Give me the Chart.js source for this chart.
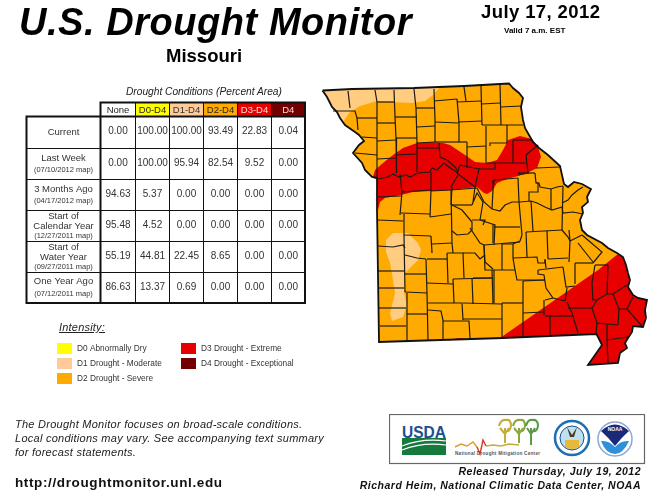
<!DOCTYPE html>
<html>
<head>
<meta charset="utf-8">
<title>U.S. Drought Monitor - Missouri</title>
<script src="https://cdn.jsdelivr.net/npm/chart.js@4"></script>
<style>
  html, body { margin: 0; padding: 0; background: #fff; }
  #page { position: relative; width: 670px; height: 498px; overflow: hidden; font-family: "Liberation Sans", Arial, sans-serif; color: #111; }
  #page canvas { position: absolute; left: 0; top: 0; }
  .t { position: absolute; white-space: nowrap; line-height: 1; }
  #logos { position: absolute; left: 389px; top: 414px; }
</style>
</head>
<body>
<div id="page">
  <canvas id="map" width="670" height="498"></canvas>

  <div class="t" style="left:19px;top:3px;font-size:38px;font-weight:bold;font-style:italic;letter-spacing:.55px;color:#000">U.S. Drought Monitor</div>
  <div class="t" style="left:166px;top:47px;font-size:18.5px;font-weight:bold;color:#000">Missouri</div>
  <div class="t" style="left:481px;top:3px;font-size:18.5px;font-weight:bold;letter-spacing:.4px;color:#000">July 17, 2012</div>
  <div class="t" style="left:504px;top:27px;font-size:8px;font-weight:bold;color:#000">Valid 7 a.m. EST</div>
  <div class="t" style="left:126px;top:87px;font-size:10.2px;font-style:italic;color:#222">Drought Conditions (Percent Area)</div>

  <div class="t" style="left:59px;top:322px;font-size:11px;font-style:italic;text-decoration:underline;letter-spacing:.2px;color:#222">Intensity:</div>
  <div class="t" style="left:15px;top:419px;font-size:11px;font-style:italic;letter-spacing:.26px;color:#222">The Drought Monitor focuses on broad-scale conditions.</div>
  <div class="t" style="left:15px;top:433px;font-size:11px;font-style:italic;letter-spacing:.26px;color:#222">Local conditions may vary. See accompanying text summary</div>
  <div class="t" style="left:15px;top:447px;font-size:11px;font-style:italic;letter-spacing:.26px;color:#222">for forecast statements.</div>
  <div class="t" style="left:15px;top:476px;font-size:13.5px;font-weight:bold;letter-spacing:.62px">http://droughtmonitor.unl.edu</div>
  <div class="t" style="right:29px;top:466px;font-size:10.5px;font-weight:bold;font-style:italic;letter-spacing:.5px">Released Thursday, July 19, 2012</div>
  <div class="t" style="right:29px;top:480px;font-size:10.5px;font-weight:bold;font-style:italic;letter-spacing:.5px">Richard Heim, National Climatic Data Center, NOAA</div>

  <svg id="logos" width="257" height="51" viewBox="0 0 257 51">
    <rect x="0.5" y="0.5" width="255" height="49" fill="#fff" stroke="#666" stroke-width="1.2"/>
    <text x="13" y="24" font-family="Liberation Sans" font-size="17" font-weight="bold" fill="#1b4f91" textLength="44" lengthAdjust="spacingAndGlyphs">USDA</text>
    <rect x="13" y="24" width="44" height="17" fill="#157a3c"/>
    <path d="M13 32Q33 24 57 27M13 36Q33 28 57 31" stroke="#fff" stroke-width="1.2" fill="none"/>
    <polyline points="66,33 72,30 78,32 84,28 88,33" fill="none" stroke="#e8962d" stroke-width="1.4"/>
    <polyline points="88,33 91,40 94,26 97,32" fill="none" stroke="#d8322a" stroke-width="1.4"/>
    <polyline points="97,32 104,31 112,32 120,30 130,31" fill="none" stroke="#c5ad3a" stroke-width="1.4"/>
    <g fill="none" stroke-width="2">
      <path d="M116 29V14M116 20L111 14M116 20L120 14M110 12Q112 5 117 6Q122 5 122 12Q121 18 117 17" stroke="#c5ad3a"/>
      <path d="M130 29V14M130 20L125 14M130 20L134 14M124 12Q126 5 131 6Q136 5 136 12Q135 18 131 17" stroke="#8aa83d"/>
      <path d="M142 31V14M142 20L138 14M142 20L146 14M137 12Q139 5 143 6Q149 5 149 12Q148 18 144 17" stroke="#5c9a4a"/>
    </g>
    <text x="66" y="41" font-family="Liberation Sans" font-size="4.6" font-weight="bold" fill="#555" textLength="85">National Drought Mitigation Center</text>
    <circle cx="183" cy="24" r="17" fill="#fff" stroke="#1d6fb3" stroke-width="2.5"/>
    <circle cx="183" cy="24" r="12" fill="#bfe0ef" stroke="#1b4f91"/>
    <path d="M176 26H190V33Q183 37 176 33Z" fill="#e5b93a"/>
    <path d="M178 13L183 21L188 13L185 23H181Z" fill="#4a3a1e"/>
    <circle cx="226" cy="25" r="17" fill="#fff" stroke="#8fa8d0" stroke-width="1.5"/>
    <path d="M212 17Q226 4 240 17Q232 24 226 32Q220 24 212 17Z" fill="#1a2a78"/>
    <path d="M212 27Q220 26 226 33Q232 26 240 27Q234 40 226 40Q217 40 212 27Z" fill="#2f8fd8"/>
    <text x="226" y="17" text-anchor="middle" font-family="Liberation Sans" font-size="5" font-weight="bold" fill="#fff">NOAA</text>
  </svg>
</div>

<script>
// Table values (percent area)
const rowNames = [['Current'], ['Last Week', '(07/10/2012 map)'], ['3 Months Ago', '(04/17/2012 map)'],
  ['Start of', 'Calendar Year', '(12/27/2011 map)'], ['Start of', 'Water Year', '(09/27/2011 map)'], ['One Year Ago', '(07/12/2011 map)']];
const columnNames = ['None', 'D0-D4', 'D1-D4', 'D2-D4', 'D3-D4', 'D4'];
const noneValues = ['0.00', '0.00', '94.63', '95.48', '55.19', '86.63'];
const d0d4Values = ['100.00', '100.00', '5.37', '4.52', '44.81', '13.37'];
const d1d4Values = ['100.00', '95.94', '0.00', '0.00', '22.45', '0.69'];
const d2d4Values = ['93.49', '82.54', '0.00', '0.00', '8.65', '0.00'];
const d3d4Values = ['22.83', '9.52', '0.00', '0.00', '0.00', '0.00'];
const d4Values = ['0.04', '0.00', '0.00', '0.00', '0.00', '0.00'];
const columnValues = [noneValues, d0d4Values, d1d4Values, d2d4Values, d3d4Values, d4Values];

// Legend
const legendNames = ['D0 Abnormally Dry', 'D1 Drought - Moderate', 'D2 Drought - Severe', 'D3 Drought - Extreme', 'D4 Drought - Exceptional'];

// Map shapes, traced in picture units as x,y,x,y...
const stateOutline = [322.5,90.5, 352,89, 414,88, 464,86, 509,83.5, 513,88, 519,93, 523,98, 521,107, 523,120, 525,128, 529,135, 533,142,
  539,148, 548,155, 560,166, 562,175, 564,184, 568,187, 574,182, 582,184, 591,189, 587,197, 588,202, 582,207, 583,213, 580,220, 582,230,
  587,235, 602,243, 608,248, 617,253, 623,257, 626,265, 628,273, 630,280, 628,287, 633,295, 638,298, 647,300, 645,310, 646,318, 643,327,
  633,326, 632,332, 628,338, 625,343, 627,348, 620,353, 618,363, 588,365, 595,355, 602,345, 597,335, 596,334, 503,338, 379,342, 377,210,
  377,178, 372,177, 365,170, 362,163, 353,153, 359,145, 364,141, 359,135, 355,132, 345,125, 340,118, 337,112, 332,107, 327,97];
const d1North = [322.5,90.5, 352,89, 414,88, 440,87, 433,95, 425,101, 412,103, 393,102, 377,101, 360,106, 350,112, 343,122, 345,125,
  340,118, 337,112, 332,107, 327,97];
const d1South = [386,240, 393,233, 408,233, 418,243, 421,250, 418,260, 405,273, 404,293, 407,305, 403,317, 392,321, 390,313, 395,293,
  393,280, 390,263, 386,252];
const d3North = [373,177, 375,170, 383,163, 393,155, 403,148, 417,143, 430,142, 443,143, 450,145, 465,155, 475,162, 487,163, 497,160,
  503,150, 508,140, 520,136, 532,139, 538,147, 541,157, 537,168, 527,173, 518,176, 507,179, 497,183, 492,191, 487,194, 484,193, 477,187,
  451,190, 413,192, 401,195, 385,198, 380,202, 378,210, 377,178];
const d3South = [500,338, 598,270, 618,254, 623,257, 626,265, 628,273, 630,280, 628,287, 633,295, 638,298, 647,300, 645,310, 646,318, 643,327,
  633,326, 632,332, 628,338, 625,343, 627,348, 620,353, 618,363, 588,365, 595,355, 602,345, 597,335, 596,334];
const d3Sliver = [447,340.5, 458,338, 467,338.5];
const countyLines = [
  [348,91,350,108], [333,111,355,111,357,118,358,130], [357,118,377,118], [375,90,377,102,377,178],
  [394,90,395,117,396,138,396,155,397,173], [414,89,416,108,417,142,417,172], [434,89,435,120,435,142], [464,87,466,101],
  [481,86,482,125], [500,84,501,125], [377,102,394,102], [395,117,417,117], [416,108,435,108], [434,101,457,99], [457,102,481,101],
  [481,104,500,103], [500,107,521,106], [457,99,459,122,459,142], [377,123,395,123], [396,138,417,138], [377,141,396,140],
  [362,137,377,138], [417,127,435,126], [435,122,458,123], [458,122,482,121], [482,125,523,125], [435,142,467,142], [486,126,486,163],
  [507,125,507,143], [417,143,435,142], [355,153,377,155], [377,159,396,158], [396,155,417,154], [417,148,439,148],
  [439,143,440,157,447,160,455,167,458,172], [467,142,467,168], [467,147,486,146], [490,146,490,143,507,143], [513,140,532,140],
  [513,140,513,163], [486,163,526,163], [526,155,538,145], [526,155,528,173], [479,169,495,169,495,163], [494,180,518,178],
  [518,175,529,173], [460,165,479,169,475,187], [460,165,457,173,475,187],
  [373,177,378,179,388,177,393,174,399,177,406,175,410,177,418,173,430,172,432,168,437,170,444,163,449,167,455,171,458,173],
  [400,174,402,192,400,215], [431,172,431,190,430,217], [402,192,431,190], [378,197,401,196], [431,191,451,190,477,188], [452,187,451,205],
  [451,187,458,175], [475,187,473,202], [452,205,472,205], [401,213,430,214], [378,220,403,221], [404,214,404,235,405,292],
  [404,235,431,236], [430,217,451,214], [451,190,452,243], [431,236,432,253], [432,244,452,243], [405,255,417,258,426,259],
  [426,259,427,293,428,340], [427,259,447,259], [447,253,448,283], [447,253,463,253,464,278], [463,253,475,253,480,259,485,255],
  [452,243,453,253], [378,246,393,247,403,245,405,248], [378,271,404,271], [378,288,404,288], [404,274,427,274], [405,292,427,293],
  [407,293,407,341], [379,308,406,308], [380,326,406,326], [407,314,428,314], [427,283,453,284], [453,279,454,303],
  [428,303,462,303,463,320], [428,310,441,311,443,320,443,340], [443,321,469,321,470,338], [463,303,502,304], [463,319,502,319],
  [472,278,473,304], [453,279,492,278], [492,270,493,304], [484,245,485,262,493,269], [452,205,462,210,472,222,472,230,468,234,457,235,452,231],
  [472,205,477,193,483,202], [472,220,485,220,483,225], [470,228,480,243,484,245], [484,245,520,242], [493,225,493,243],
  [480,220,495,225,494,245], [483,202,480,220],
  [477,188,484,202,492,209,500,211,505,205,512,202,520,202,531,201,537,203,545,207,552,210,562,207,563,213,573,212,583,214],
  [493,190,492,209], [494,180,493,190], [518,178,519,202], [535,173,536,183,538,183,538,192,529,192,529,201], [536,168,560,167],
  [518,173,535,173], [536,183,539,183,540,187,551,189,557,187,563,186], [551,189,551,209], [563,186,562,230],
  [562,203,568,200,572,195,578,190,583,187], [531,201,533,231], [519,202,522,235], [494,227,520,227], [484,245,485,270,515,270],
  [502,244,502,270], [502,244,513,244,520,241,522,235], [513,244,513,258,515,270], [513,258,537,257,538,263,545,263,545,259],
  [526,232,562,230], [526,232,527,257], [547,231,548,259], [548,259,568,258], [569,230,570,241,569,262], [562,230,568,237,570,241,582,235],
  [582,235,602,252,593,263], [578,243,593,262], [575,263,593,263], [575,263,575,284], [545,260,546,268], [538,270,563,267],
  [563,267,566,287,575,286], [538,270,538,274,544,275,546,288,553,298,565,301], [567,288,565,301], [545,300,553,298], [544,300,544,315],
  [545,316,572,316], [567,302,572,313,578,333], [568,308,592,308], [523,281,545,280], [515,270,517,280,545,280], [523,281,523,337],
  [473,278,493,278], [502,303,523,303], [494,270,494,303], [523,313,544,312], [502,303,502,337], [550,316,550,335], [595,265,608,265],
  [608,265,607,294], [595,265,592,283,593,300], [592,300,597,300,607,294,613,294,627,285], [613,294,619,309,618,325],
  [619,309,627,309,642,326], [627,309,633,297], [597,300,592,308,597,323,596,334], [596,323,618,325], [607,324,607,340,608,363],
  [607,340,628,337]
];

// Table and legend layout, picture units
const columnEdges = [26.5, 100.5, 135.5, 169.5, 203.5, 237.5, 271.5, 305];
const rowEdges = [102.5, 116.5, 148.5, 179.5, 210.5, 241.5, 272.5, 303];
const headerFills = ['#ffffff', '#ffff00', '#ffcc99', '#ffaa00', '#e60000', '#730000'];
const headerInks = ['#222222', '#222222', '#333333', '#222222', '#ffdddd', '#ffdddd'];
const legendFills = ['#ffff00', '#ffcc99', '#ffaa00', '#e60000', '#730000'];
const legendSlots = [[57, 343], [57, 358], [57, 373], [181, 343], [181, 358]];

const toPoints = (flat) => {
  const pts = [];
  for (let i = 0; i < flat.length; i += 2) pts.push({ x: flat[i], y: flat[i + 1] });
  return pts;
};

const area = (flat, color) => ({
  data: toPoints(flat.concat(flat.slice(0, 2))),
  showLine: true, fill: 'shape', backgroundColor: color, borderWidth: 0, pointRadius: 0, tension: 0,
});

const stroke = (flat, width, color) => ({
  data: toPoints(flat), showLine: true, fill: false, borderColor: color, borderWidth: width, pointRadius: 0, tension: 0,
});

/**
 * Table and legend, placed through the chart's own scales
 */
const tablePlugin = {
  id: 'tablePlugin',
  afterDatasetsDraw(chart) {
    const { ctx, scales } = chart;
    const px = (v) => scales.x.getPixelForValue(v);
    const py = (v) => scales.y.getPixelForValue(v);
    const centerX = (i) => px((columnEdges[i] + columnEdges[i + 1]) / 2);
    const top = rowEdges[0];
    const bottom = rowEdges[rowEdges.length - 1];
    const left = columnEdges[0];
    const right = columnEdges[columnEdges.length - 1];

    ctx.save();
    // Header cells
    headerFills.forEach((c, i) => {
      ctx.fillStyle = c;
      ctx.fillRect(px(columnEdges[i + 1]), py(rowEdges[0]), px(columnEdges[i + 2]) - px(columnEdges[i + 1]), py(rowEdges[1]) - py(rowEdges[0]));
    });

    // Grid
    ctx.strokeStyle = '#111';
    ctx.lineWidth = 1;
    ctx.beginPath();
    columnEdges.slice(2, -1).forEach((e) => { ctx.moveTo(px(e), py(top)); ctx.lineTo(px(e), py(bottom)); });
    rowEdges.slice(2, -1).forEach((e) => { ctx.moveTo(px(left), py(e)); ctx.lineTo(px(right), py(e)); });
    ctx.stroke();
    ctx.lineWidth = 2;
    ctx.strokeRect(px(left), py(rowEdges[1]), px(right) - px(left), py(bottom) - py(rowEdges[1]));
    ctx.strokeRect(px(columnEdges[1]), py(top), px(right) - px(columnEdges[1]), py(bottom) - py(top));

    // Text
    ctx.textAlign = 'center';
    ctx.textBaseline = 'middle';
    ctx.font = '9.5px "Liberation Sans"';
    columnNames.forEach((name, i) => {
      ctx.fillStyle = headerInks[i];
      ctx.fillText(name, centerX(i + 1), py(110));
    });
    ctx.fillStyle = '#333';
    columnValues.forEach((values, c) => {
      values.forEach((v, r) => {
        ctx.font = '10px "Liberation Sans"';
        ctx.fillText(v, centerX(c + 1), py((rowEdges[r + 1] + rowEdges[r + 2]) / 2 - 1));
      });
    });
    rowNames.forEach((lines, r) => {
      const mid = (rowEdges[r + 1] + rowEdges[r + 2]) / 2;
      const step = lines.length === 3 ? 9.5 : 12;
      lines.forEach((line, i) => {
        ctx.font = line.startsWith('(') ? '7.5px "Liberation Sans"' : '9.5px "Liberation Sans"';
        ctx.fillText(line, centerX(0), py(mid + (i - (lines.length - 1) / 2) * step));
      });
    });

    // Legend
    ctx.textAlign = 'left';
    legendSlots.forEach(([x, y], i) => {
      ctx.fillStyle = legendFills[i];
      ctx.fillRect(px(x), py(y), 15, 11);
      ctx.fillStyle = '#333';
      ctx.font = '8.3px "Liberation Sans"';
      ctx.fillText(legendNames[i], px(x + 20), py(y + 6));
    });
    ctx.restore();
  },
};

// Chart.js paints dataset 0 last, so the outline goes first and the state fill last
new Chart(document.getElementById('map'), {
  type: 'scatter',
  data: {
    datasets: [
      stroke(stateOutline.concat(stateOutline.slice(0, 2)), 1.8, '#111'),
      ...countyLines.map((line) => stroke(line, 1.2, '#1e1a12')),
      area(d3Sliver, '#e60000'),
      area(d3South, '#e60000'),
      area(d3North, '#e60000'),
      area(d1South, '#ffcc80'),
      area(d1North, '#ffcc80'),
      area(stateOutline, '#ffaa00'),
    ],
  },
  plugins: [tablePlugin],
  options: {
    responsive: false,
    animation: false,
    devicePixelRatio: 1,
    layout: { padding: 0 },
    plugins: { legend: { display: false }, tooltip: { enabled: false } },
    scales: {
      x: { type: 'linear', min: 0, max: 670, display: false },
      y: { type: 'linear', min: 0, max: 498, reverse: true, display: false },
    },
  },
});
</script>
</body>
</html>
